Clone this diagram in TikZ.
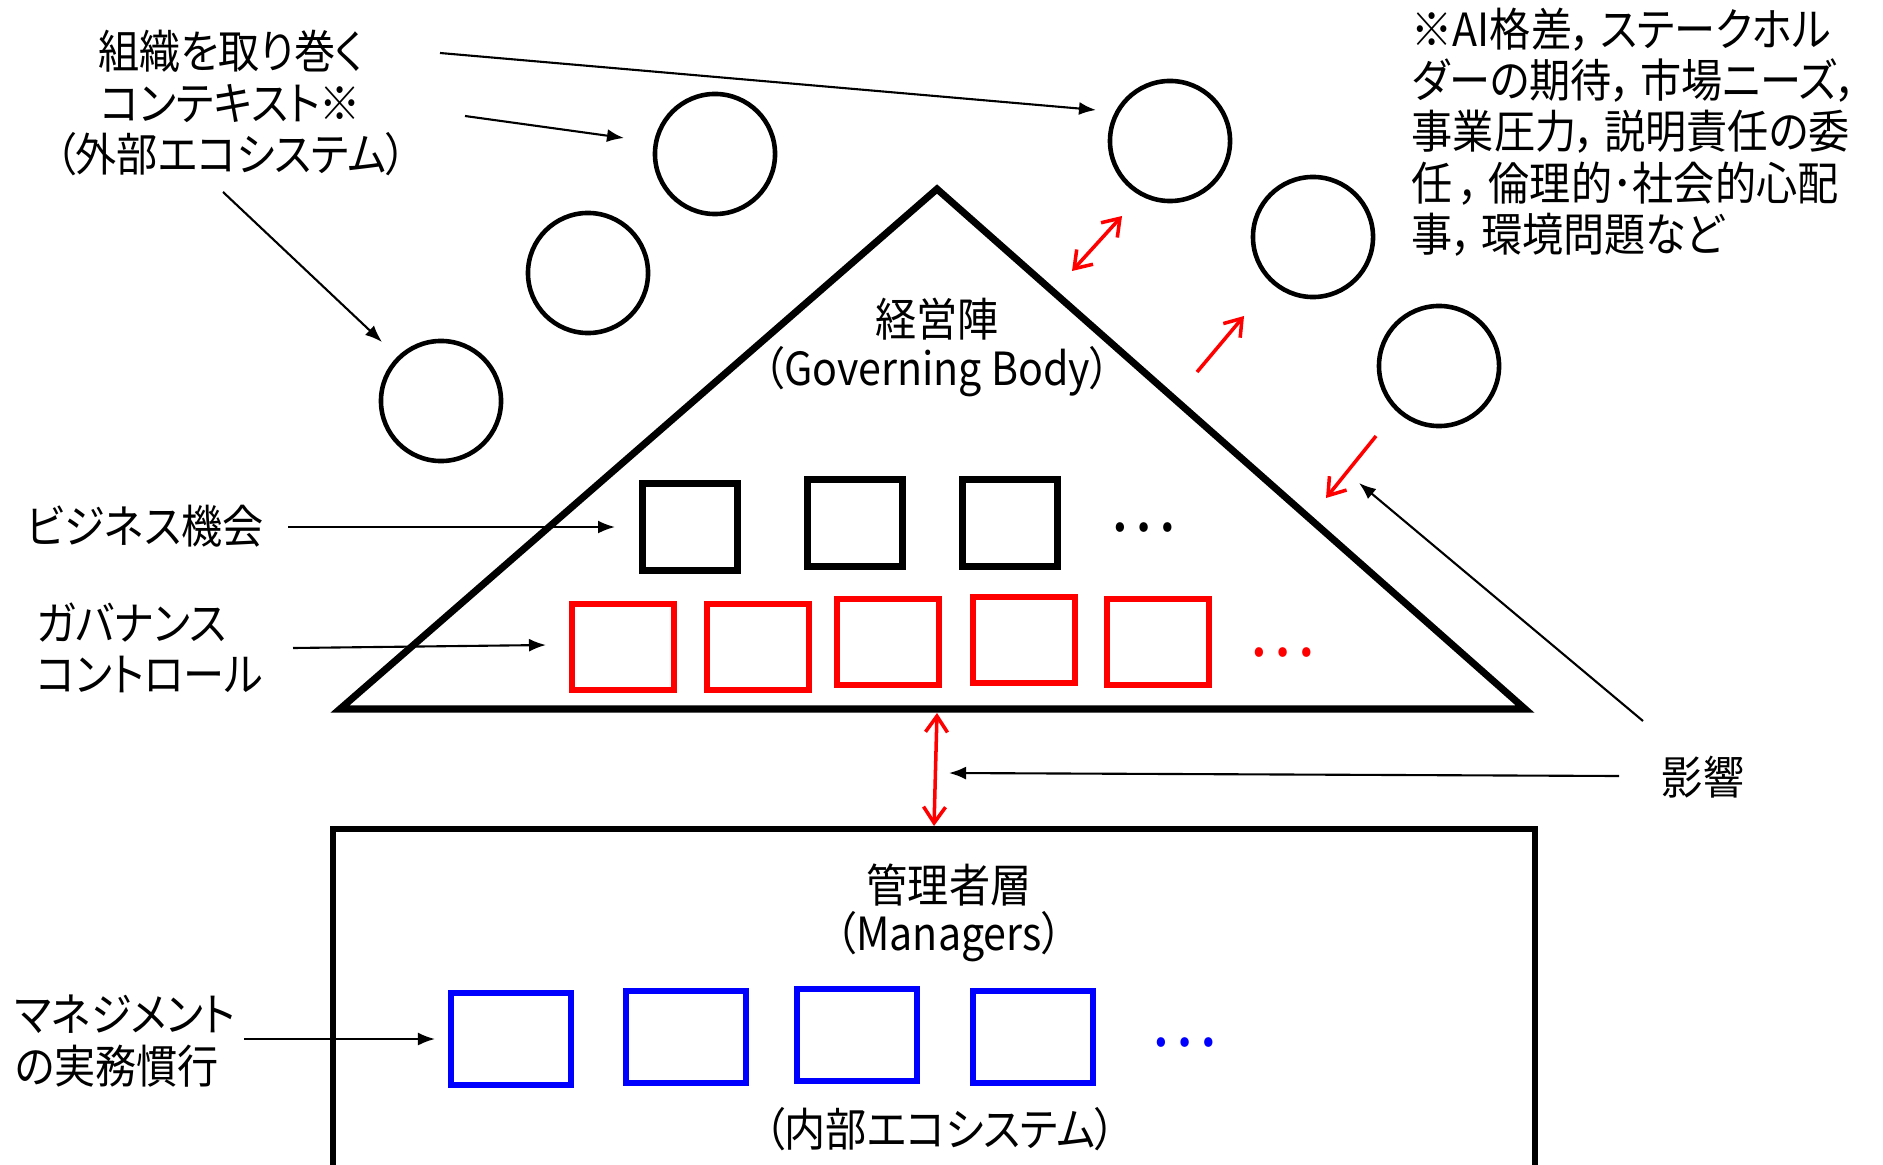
\documentclass[tikz,border=0pt]{standalone}
\usepackage{fontspec}
\setmainfont{Noto Sans CJK JP}[FakeStretch=0.9,RawFeature=+palt]
\usetikzlibrary{arrows.meta}
\begin{document}
\begin{tikzpicture}[x=0.01cm,y=-0.01cm,
  txt/.style={font=\fontsize{13pt}{14.6pt}\selectfont, inner sep=0pt},
  dots/.style={font=\fontsize{20pt}{22pt}\selectfont, inner sep=0pt},
  circ/.style={circle,draw,line width=1.3pt,minimum size=1.2cm,inner sep=0pt},
  bsq/.style={draw,line width=2pt,minimum width=0.95cm,minimum height=0.86cm,inner sep=0pt},
  rsq/.style={draw=red,line width=1.6pt,minimum width=1.02cm,minimum height=0.86cm,inner sep=0pt},
  usq/.style={draw=blue,line width=1.6pt,minimum width=1.2cm,minimum height=0.92cm,inner sep=0pt},
  barr/.style={-{Latex[length=0.17cm,width=0.13cm]},line width=0.6pt},
  rarr/.style={-{Straight Barb[length=0.16cm,width=0.22cm]},draw=red,line width=1pt},
  rdarr/.style={{Straight Barb[length=0.16cm,width=0.22cm]}-{Straight Barb[length=0.16cm,width=0.22cm]},draw=red,line width=1pt},
]
\useasboundingbox[fill=white] (0,0) rectangle (1883,1164);

% external context label
\node[txt,align=center] (ctx) at (231,103) {組織を取り巻く\\コンテキスト※\\（外部エコシステム）};
\node[txt,align=left,anchor=west] (note) at (1411,132) {※AI格差，\,ステークホル\\ダーの期待，\,市場ニーズ，\\事業圧力，\,説明責任の委\\任\,，\,倫理的･社会的心配\\事，\,環境問題など};

% circles
\node[circ] (c1) at (715,154) {};
\node[circ] (c2) at (588,273) {};
\node[circ] (c3) at (441,401) {};
\node[circ] (c4) at (1170,141) {};
\node[circ] (c5) at (1313,237) {};
\node[circ] (c6) at (1439,366) {};

% triangle
\coordinate (apex) at (937,189);
\coordinate (tl) at (340,709);
\coordinate (tr) at (1525,709);
\draw[line width=2pt,line join=miter] (apex) -- (tl) -- (tr) -- cycle;
\node[txt] (gb1) at (937,319) {経営陣};
\node[txt] (gb2) at (937,372) {（Governing Body）};

% business squares
\node[bsq] (b1) at (690,527) {};
\node[bsq] (b2) at (855,523) {};
\node[bsq] (b3) at (1010,523) {};
\node[dots] (bd) at (1143,528) {…};

% governance squares
\node[rsq] (r1) at (623,647) {};
\node[rsq] (r2) at (758,647) {};
\node[rsq] (r3) at (888,642) {};
\node[rsq] (r4) at (1024,640) {};
\node[rsq] (r5) at (1158,642) {};
\node[dots,text=red] (rd) at (1282,653) {…};

% managers box
\coordinate (mtl) at (333,829);
\coordinate (mtr) at (1535,829);
\draw[line width=1.6pt] (333,1175) -- (mtl) -- (mtr) -- (1535,1175);
\node[txt] (m1) at (949,885) {管理者層};
\node[txt] (m2) at (949,937) {（Managers）};
\node[txt] (m3) at (940,1129) {（内部エコシステム）};

\node[usq] (u1) at (511,1039) {};
\node[usq] (u2) at (686,1037) {};
\node[usq] (u3) at (857,1035) {};
\node[usq] (u4) at (1033,1037) {};
\node[dots,text=blue] (ud) at (1184,1043) {…};

% left labels
\node[txt,anchor=west] (biz) at (26,526) {ビジネス機会};
\node[txt,anchor=west,align=left] (gov) at (36,648) {ガバナンス\\コントロール};
\node[txt,anchor=west,align=left] (mgmt) at (14,1041) {マネジメント\\の実務慣行};
\node[txt] (eik) at (1703,777) {影響};

% black arrows
\coordinate (a1s) at (440,53);   \coordinate (a1e) at (1096,110);
\coordinate (a2s) at (465,116);  \coordinate (a2e) at (624,138);
\coordinate (a3s) at (223,192);  \coordinate (a3e) at (382,342);
\draw[barr] (a1s) -- (a1e);
\draw[barr] (a2s) -- (a2e);
\draw[barr] (a3s) -- (a3e);
\coordinate (bzs) at (288,527);  \coordinate (bze) at (615,527);
\draw[barr] (bzs) -- (bze);
\coordinate (gvs) at (293,648);  \coordinate (gve) at (546,645);
\draw[barr] (gvs) -- (gve);
\coordinate (mgs) at (244,1039); \coordinate (mge) at (435,1039);
\draw[barr] (mgs) -- (mge);
\coordinate (e1s) at (1643,721); \coordinate (e1e) at (1359,483);
\draw[barr] (e1s) -- (e1e);
\coordinate (e2s) at (1619,776); \coordinate (e2e) at (949,773);
\draw[barr] (e2s) -- (e2e);

% red arrows
\coordinate (ra1) at (1072,271); \coordinate (ra2) at (1122,216);
\draw[rdarr] (ra1) -- (ra2);
\coordinate (rb1) at (1197,372); \coordinate (rb2) at (1244,316);
\draw[rarr] (rb1) -- (rb2);
\coordinate (rc1) at (1376,436); \coordinate (rc2) at (1326,498);
\draw[rarr] (rc1) -- (rc2);
\coordinate (rv1) at (937,713); \coordinate (rv2) at (934,826);
\draw[rdarr] (rv1) -- (rv2);
\end{tikzpicture}
\end{document}
